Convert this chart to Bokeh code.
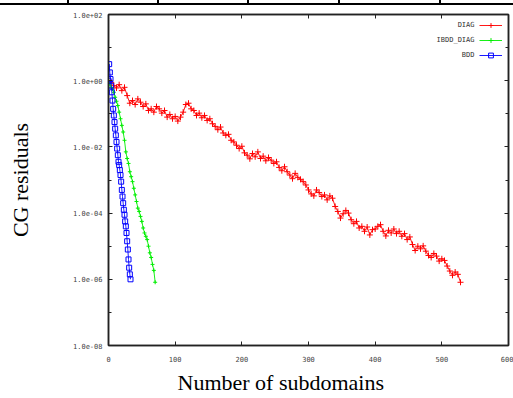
from bokeh.plotting import figure
from bokeh.models import (Range1d, FixedTicker, CustomJSTickFormatter, LinearAxis, LogAxis,
                          Legend, LegendItem, Label, Title, ColumnDataSource, CustomLabelingPolicy)
from bokeh.embed import file_html
from bokeh.resources import INLINE

# ---------------- data (log10 of CG residual) ----------------
diag_iter = list(range(0, 529, 4))
diag_log = [
    0.00, -0.05, -0.15, -0.22, -0.12, -0.30, -0.20, -0.45, -0.68, -0.60,
    -0.72, -0.55, -0.65, -0.78, -0.70, -0.90, -0.85, -0.95, -0.78, -0.85,
    -0.98, -0.90, -1.10, -1.02, -1.15, -1.08, -1.22, -1.10, -0.95, -0.72,
    -0.68, -0.85, -0.90, -1.05, -0.98, -1.12, -1.05, -1.20, -1.15, -1.30,
    -1.38, -1.48, -1.40, -1.58, -1.65, -1.62, -1.80, -1.85, -1.95, -2.05,
    -1.98, -2.18, -2.25, -2.36, -2.20, -2.30, -2.15, -2.35, -2.28, -2.42,
    -2.32, -2.40, -2.50, -2.45, -2.62, -2.72, -2.60, -2.75, -2.85, -2.96,
    -2.80, -2.92, -2.98, -3.05, -3.15, -3.30, -3.42, -3.48, -3.30, -3.38,
    -3.50, -3.45, -3.60, -3.48, -3.55, -3.80, -3.95, -4.15, -4.02, -3.92,
    -4.00, -4.20, -4.32, -4.25, -4.45, -4.40, -4.55, -4.42, -4.66, -4.50,
    -4.48, -4.40, -4.35, -4.55, -4.69, -4.52, -4.60, -4.48, -4.62, -4.55,
    -4.70, -4.62, -4.80, -4.72, -4.95, -5.13, -5.00, -5.08, -4.99, -5.15,
    -5.28, -5.34, -5.22, -5.30, -5.45, -5.38, -5.43, -5.60, -5.75, -5.88,
    -5.78, -5.85, -6.09,
]

ibdd_iter = list(range(0, 71, 2))
ibdd_log = [
    0.00, -0.10, -0.20, -0.25, -0.35, -0.50, -0.62, -0.75, -0.95, -1.15,
    -1.35, -1.55, -1.80, -2.15, -2.35, -2.50, -2.75, -2.90, -3.05, -3.25,
    -3.45, -3.65, -3.85, -3.95, -4.10, -4.25, -4.45, -4.60, -4.70, -4.80,
    -5.00, -5.20, -5.34, -5.55, -5.73, -6.09,
]

bdd_iter = list(range(0, 34))
bdd_log = [
    0.00, 0.50, 0.25, 0.05, -0.15, -0.35, -0.60, -0.85, -1.05, -1.25,
    -1.45, -1.65, -1.85, -2.05, -2.25, -2.45, -2.55, -2.70, -2.85, -3.05,
    -3.30, -3.50, -3.70, -3.90, -4.05, -4.25, -4.40, -4.60, -4.85, -5.10,
    -5.40, -5.65, -5.85, -6.00,
]

series_names = ["DIAG", "IBDD_DIAG", "BDD"]
series_colors = ["#ff0000", "#00ee00", "#0000ff"]

x_ticks = [0, 100, 200, 300, 400, 500, 600]
y_ticks = [1e-8, 1e-6, 1e-4, 1e-2, 1e0, 1e2]
y_minor = [1e-7, 1e-5, 1e-3, 1e-1, 1e1]

x_title = "Number of subdomains"
y_title = "CG residuals"

# cropped table border visible above the chart (page decoration, drawn with CSS)
_bars = ["linear-gradient(#000,#000) 0px 3px / 100% 2px no-repeat"]
for sx in (67, 157, 247, 338, 439):
    _bars.append(f"linear-gradient(#000,#000) {sx}px 0px / 2px 5px no-repeat")
page_bg = ", ".join(_bars) + ", #ffffff"

# ---------------- figure ----------------
p = figure(width=513, height=398, y_axis_type="log",
           x_range=Range1d(0, 600), y_range=Range1d(1e-8, 1e2),
           output_backend="svg", toolbar_location=None,
           min_border_left=108, min_border_right=3,
           min_border_top=14, min_border_bottom=49,
           styles={"background": page_bg})
p.grid.visible = False
p.outline_line_color = "#222222"
p.outline_line_width = 1.5
p.background_fill_color = "white"
p.border_fill_alpha = 0

tick_font = "DejaVu Sans Mono"
tick_color = "#444444"

def style_axis(ax, labels=True):
    ax.axis_line_color = "#222222"
    ax.axis_line_width = 1.5
    ax.major_tick_line_color = "#222222"
    ax.minor_tick_line_color = "#222222"
    ax.major_tick_in = 4
    ax.major_tick_out = 0
    ax.minor_tick_in = 3
    ax.minor_tick_out = 0
    ax.major_label_text_font = tick_font
    ax.major_label_text_color = tick_color
    if labels:
        ax.major_label_text_font_size = "7px"
    else:
        ax.major_label_text_font_size = "1px"
        ax.major_label_standoff = 0
        ax.major_label_policy = CustomLabelingPolicy(
            code="for (const i of indices) { indices.unset(i) }\nreturn indices")

xticker = FixedTicker(ticks=x_ticks, minor_ticks=[])
yticker = FixedTicker(ticks=y_ticks, minor_ticks=y_minor)
yfmt = CustomJSTickFormatter(code="""
const e = Math.round(Math.log10(tick));
const s = e < 0 ? "-" : "+";
const a = Math.abs(e);
return "1.0e" + s + (a < 10 ? "0" : "") + a;
""")

xa = p.xaxis[0]
xa.ticker = xticker
style_axis(xa)
xa.major_label_standoff = 10

ya = p.yaxis[0]
ya.ticker = yticker
ya.formatter = yfmt
style_axis(ya)
ya.major_label_standoff = 6
ya.axis_label = y_title
ya.axis_label_standoff = 37
ya.axis_label_text_font = "Liberation Serif"
ya.axis_label_text_font_size = "22px"
ya.axis_label_text_font_style = "normal"
ya.axis_label_text_color = "black"

top_ax = LinearAxis(ticker=FixedTicker(ticks=x_ticks, minor_ticks=[]))
style_axis(top_ax, labels=False)
p.add_layout(top_ax, "above")

right_ax = LogAxis(ticker=FixedTicker(ticks=y_ticks, minor_ticks=y_minor))
style_axis(right_ax, labels=False)
p.add_layout(right_ax, "right")

# x axis title, placed left of centre as in the original
p.add_layout(Title(text=x_title, align="left", offset=69, standoff=7,
                   text_font="Liberation Serif", text_font_size="22px",
                   text_font_style="normal", text_color="black"), "below")

# ---------------- series ----------------
all_data = [(diag_iter, diag_log), (ibdd_iter, ibdd_log), (bdd_iter, bdd_log)]
items = []
for (xs, logs), name, col in zip(all_data, series_names, series_colors):
    src = ColumnDataSource(dict(x=xs, y=[10 ** v for v in logs]))
    ln = p.line("x", "y", source=src, line_color=col, line_width=1, line_alpha=0.9)
    if name == "BDD":
        mk = p.scatter("x", "y", source=src, marker="square", size=5,
                       line_color=col, fill_color=None, line_width=1)
    elif name == "DIAG":
        mk = p.scatter("x", "y", source=src, marker="cross", size=6,
                       line_color=col, line_width=1)
    else:
        mk = p.scatter("x", "y", source=src, marker="cross", size=4,
                       line_color=col, line_width=1)
    items.append(LegendItem(label=" ", renderers=[ln, mk]))

legend = Legend(items=items, location="top_right",
                glyph_width=23, glyph_height=12, label_height=12,
                label_width=1, label_standoff=0, spacing=3,
                padding=0, margin=5, label_text_font_size="7px",
                label_text_font=tick_font,
                border_line_alpha=0, background_fill_alpha=0)
p.add_layout(legend)

# legend texts (left of the samples, as in the original)
legend_y_log = [1.672, 1.224, 0.776]
for name, ylog in zip(series_names, legend_y_log):
    p.add_layout(Label(x=549, y=10 ** ylog, text=name, text_align="right",
                       text_baseline="middle", text_font=tick_font,
                       text_font_size="7px", text_color="#333333"))

open("out.html", "w").write(file_html(p, INLINE))
